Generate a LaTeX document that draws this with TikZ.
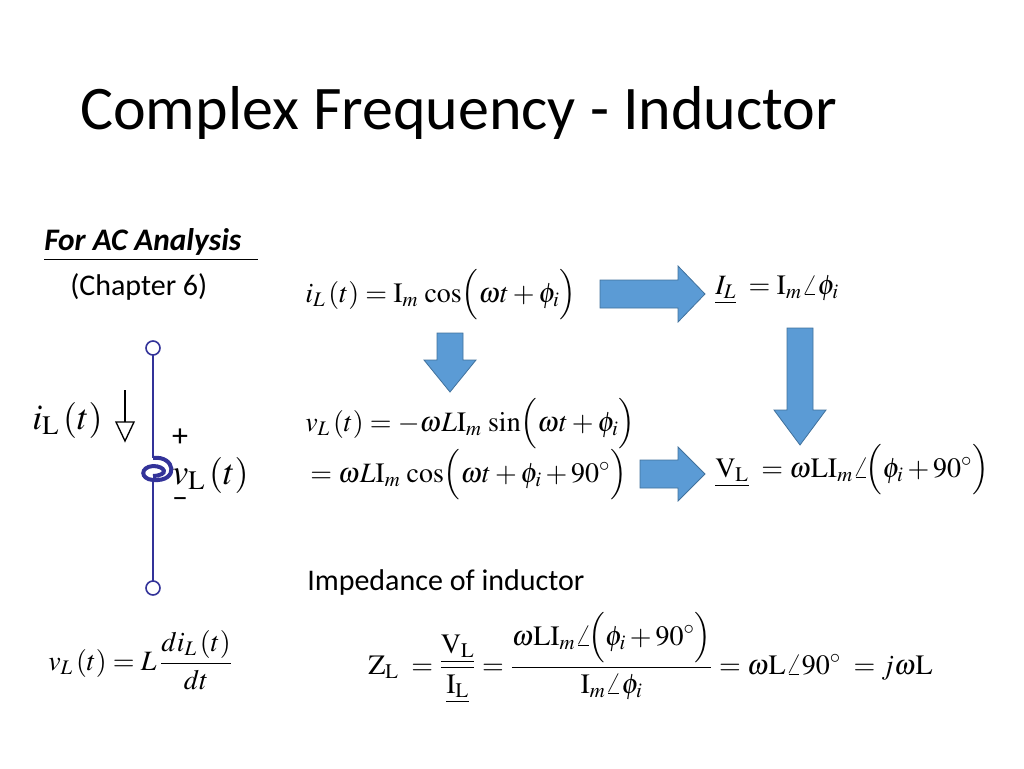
\documentclass[tikz,border=0pt]{standalone}
\usepackage[no-math]{fontspec}
\usepackage{amsmath}
\usepackage{mathptmx}
\setmainfont{Carlito}
\definecolor{ab}{HTML}{5B9BD5}
\definecolor{abd}{HTML}{41719C}
\begin{document}
\begin{tikzpicture}[x=0.75pt,y=-0.75pt]
\tikzset{
 eq/.style={anchor=west,inner sep=0pt,font=\fontsize{21}{24}\selectfont},
 barrow/.style={fill=ab,draw=abd,line width=0.6pt},
 wire/.style={draw=blue!50!black!80,line width=1.2pt},
}
\useasboundingbox (0,0) rectangle (1024,768);
\node[anchor=west,inner sep=0pt,font=\fontsize{46.5}{52}\selectfont] (title) at (80,113) {Complex Frequency - Inductor};
\node[anchor=west,inner sep=0pt,font=\fontsize{23.5}{26}\selectfont\bfseries\itshape] (ac) at (44,242) {For AC Analysis};
\draw (44,259) -- (258,259);
\node[anchor=west,inner sep=0pt,font=\fontsize{22.5}{26}\selectfont] (ch) at (70,287) {(Chapter 6)};
% circuit
\draw[wire] (153,355) -- (153,458);
\draw[wire] (153,480) -- (153,581);
\draw[wire,line width=3pt] (153,458) .. controls (175,455) and (180,482) .. (153,480) .. controls (140,479) and (140,467) .. (153,466) .. controls (165,466) and (170,475) .. (153,476);
\draw[wire,fill=white] (153,348) circle (7);
\draw[wire,fill=white] (153,588) circle (7);
\draw[line width=1pt] (125,390) -- (125,422);
\draw[line width=1pt,fill=white] (116,422) -- (134,422) -- (125,441) -- cycle;
\node[anchor=west,inner sep=0pt,font=\fontsize{27}{30}\selectfont] (il) at (32,420) {$i_{\mathrm{L}}\,(t)$};
\node[inner sep=0pt,font=\fontsize{24}{26}\selectfont] (plus) at (180,438) {+};
\node[inner sep=0pt,font=\fontsize{24}{26}\selectfont] (minus) at (180,503) {\textendash};
\node[anchor=west,inner sep=0pt,font=\fontsize{27}{30}\selectfont] (vl) at (172,475) {$v_{\mathrm{L}}\,(t)$};
% equations
\node[eq] (e1) at (305,295) {$i_L\,(t)=\mathrm{I}_m\,\cos\!\Big(\omega t+\phi_i\Big)$};
\node[eq] (e2) at (715,290) {$\underline{I_L}\ =\mathrm{I}_m\angle\phi_i$};
\node[eq] (e3) at (305,424) {$v_L\,(t)=-\omega L\mathrm{I}_m\,\sin\!\Big(\omega t+\phi_i\Big)$};
\node[eq] (e4) at (310,475) {$=\omega L\mathrm{I}_m\,\cos\!\Big(\omega t+\phi_i+90^\circ\Big)$};
\node[eq] (e5) at (715,470) {$\underline{\mathrm{V}_{\mathrm{L}}}\ =\omega\mathrm{LI}_m\angle\!\Big(\phi_i+90^\circ\Big)$};
\node[anchor=west,inner sep=0pt,font=\fontsize{22.5}{26}\selectfont] (imp) at (307,582) {Impedance of inductor};
\node[eq] (e6) at (48,660) {$v_L\,(t)=L\,\dfrac{di_L\,(t)}{dt}$};
\node[eq] (e7) at (368,658) {$\mathrm{Z}_{\mathrm{L}}\ =\dfrac{\underline{\mathrm{V}_{\mathrm{L}}}}{\underline{\mathrm{I}_{\mathrm{L}}}}=\dfrac{\omega\mathrm{LI}_m\angle\!\Big(\phi_i+90^\circ\Big)}{\mathrm{I}_m\angle\phi_i}=\omega\mathrm{L}\angle 90^\circ\ =j\omega\mathrm{L}$};
% block arrows
\draw[barrow] (600,280) -- (678,280) -- (678,266) -- (705,294) -- (678,322) -- (678,308) -- (600,308) -- cycle;
\draw[barrow] (640,460) -- (678,460) -- (678,447) -- (705,474) -- (678,501) -- (678,488) -- (640,488) -- cycle;
\draw[barrow] (437,333) -- (463,333) -- (463,360) -- (476,360) -- (450,392) -- (424,360) -- (437,360) -- cycle;
\draw[barrow] (787,328) -- (813,328) -- (813,410) -- (826,410) -- (800,445) -- (774,410) -- (787,410) -- cycle;
\end{tikzpicture}
\end{document}
